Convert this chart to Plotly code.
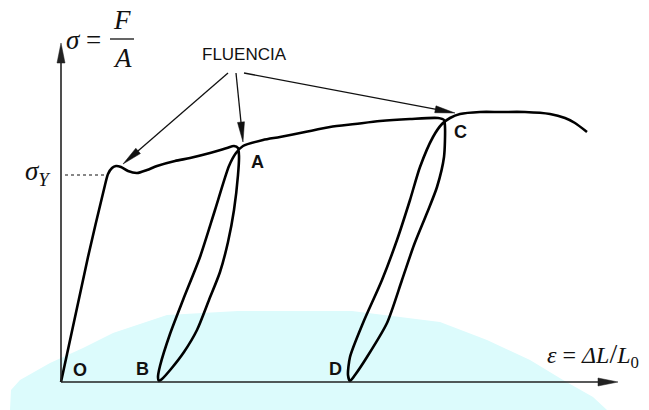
import plotly.graph_objects as go

# Stress-strain path (strain, stress) in arbitrary units:
# elastic loading O -> yield, plastic flow to A, unload to B, reload to A,
# flow to C, unload to D, reload past C and final softening.
strain = [0.00, 0.27, 0.44, 0.47, 0.51, 0.55, 0.60, 0.67, 0.76, 0.86, 0.96,
          1.14, 1.29, 1.49, 1.66, 1.73, 1.77, 1.78, 1.77, 1.73, 1.67, 1.59,
          1.48, 1.36, 1.23, 1.10, 1.01, 0.98, 0.97, 0.99, 1.09, 1.22,
          1.39, 1.54, 1.68, 1.75, 1.82, 2.02, 2.19, 2.44, 2.69, 2.94, 3.19,
          3.49, 3.77, 3.83, 3.84, 3.83, 3.76, 3.66, 3.53, 3.41, 3.26, 3.06,
          2.94, 2.89, 2.87, 2.89, 3.02, 3.21, 3.36, 3.49, 3.59, 3.72, 3.81,
          3.89, 3.99, 4.19, 4.39, 4.64, 4.89, 5.04, 5.14, 5.26]
stress = [0.00, 1.25, 1.97, 2.08, 2.14, 2.16, 2.15, 2.11, 2.09, 2.12, 2.16,
          2.21, 2.24, 2.29, 2.34, 2.36, 2.34, 2.26, 2.07, 1.72, 1.40, 1.10,
          0.82, 0.52, 0.30, 0.13, 0.03, 0.01, 0.05, 0.16, 0.48, 0.82,
          1.25, 1.72, 2.16, 2.29, 2.36, 2.42, 2.45, 2.50, 2.55, 2.58, 2.61,
          2.63, 2.64, 2.62, 2.55, 2.25, 1.95, 1.69, 1.37, 1.02, 0.59, 0.25,
          0.07, 0.01, 0.07, 0.25, 0.59, 1.02, 1.42, 1.82, 2.15, 2.45, 2.58,
          2.64, 2.68, 2.70, 2.70, 2.70, 2.68, 2.64, 2.59, 2.50]

sigma_yield = 2.07

# Named points and where their letters sit
point_names = ["O", "B", "D", "A", "C"]
point_label_x = [0.19, 0.81, 2.74, 1.96, 3.99]
point_label_y = [0.12, 0.13, 0.13, 2.20, 2.50]

# "FLUENCIA" callout: arrow tails under the word, tips at the yield spots
callout_text = "FLUENCIA"
callout_pos = (1.83, 3.28)
arrow_tails = [(1.67, 3.09), (1.75, 3.09), (1.83, 3.09)]
arrow_tips = [(0.62, 2.18), (1.82, 2.40), (3.94, 2.69)]

# View window (1 unit = 100 px)
x_range = [-0.61, 5.88]
y_range = [-0.28, 3.82]
x_axis_end = 5.57
y_axis_end = 3.39

INK = "#111111"


def arrow_shapes(x0, y0, x1, y1, head_len, head_w, width, color):
    dx, dy = x1 - x0, y1 - y0
    n = (dx * dx + dy * dy) ** 0.5
    ux, uy = dx / n, dy / n
    px, py = -uy, ux
    bx, by = x1 - ux * head_len, y1 - uy * head_len
    line = dict(type="line", x0=x0, y0=y0, x1=bx + ux * 0.01, y1=by + uy * 0.01,
                xref="x", yref="y", line=dict(color=color, width=width))
    head = dict(type="path", xref="x", yref="y",
                path=(f"M {x1},{y1} L {bx + px * head_w},{by + py * head_w} "
                      f"L {bx - px * head_w},{by - py * head_w} Z"),
                fillcolor=color, line=dict(color=color, width=0.5))
    return [line, head]


shapes = []

# pale cyan backdrop behind the lower part of the chart
backdrop = [(-0.51, -0.30), (-0.51, -0.28), (-0.50, -0.08), (-0.41, 0.02),
            (-0.11, 0.19), (0.22, 0.34), (0.52, 0.49), (1.06, 0.67),
            (1.77, 0.71), (2.91, 0.71), (3.79, 0.60), (4.26, 0.42),
            (4.69, 0.22), (5.02, 0.02), (5.32, -0.15), (5.46, -0.28),
            (5.47, -0.30)]
shapes.append(dict(type="path", xref="x", yref="y", layer="below",
                   path="M " + " L ".join(f"{a},{b}" for a, b in backdrop) + " Z",
                   fillcolor="#dcfbfc", line=dict(width=0)))

# axes with arrowheads
shapes += arrow_shapes(0, 0, x_axis_end, 0, 0.20, 0.04, 1.6, "#222222")
shapes += arrow_shapes(0, 0, 0, y_axis_end, 0.20, 0.04, 1.6, "#222222")

# dotted marker for the yield stress
shapes.append(dict(type="line", xref="x", yref="y", x0=0.04, x1=0.45,
                   y0=sigma_yield, y1=sigma_yield,
                   line=dict(color=INK, width=1.1, dash="dot")))

# callout arrows
for (tx, ty), (hx, hy) in zip(arrow_tails, arrow_tips):
    shapes += arrow_shapes(tx, ty, hx, hy, 0.2, 0.035, 1.3, INK)

# fraction bar of sigma = F / A
shapes.append(dict(type="line", xref="x", yref="y", x0=0.49, x1=0.73,
                   y0=3.43, y1=3.43, line=dict(color=INK, width=1.3)))

fig = go.Figure()
fig.add_trace(go.Scatter(x=strain, y=stress, mode="lines",
                         line=dict(color="black", width=2.6, shape="spline",
                                   smoothing=0.7),
                         hoverinfo="skip", showlegend=False))

SERIF = "Liberation Serif"
SANS = "Liberation Sans"
annotations = []
for name, lx, ly in zip(point_names, point_label_x, point_label_y):
    annotations.append(dict(x=lx, y=ly, text=f"<b>{name}</b>", showarrow=False,
                            font=dict(family=SANS, size=18, color=INK)))
annotations.append(dict(x=callout_pos[0], y=callout_pos[1], text=callout_text,
                        showarrow=False, font=dict(family=SANS, size=17, color=INK)))
annotations += [
    dict(x=0.03, y=3.42, text="<i>σ</i> =", xanchor="left", showarrow=False,
         font=dict(family=SERIF, size=27, color=INK)),
    dict(x=0.61, y=3.62, text="<i>F</i>", showarrow=False,
         font=dict(family=SERIF, size=27, color=INK)),
    dict(x=0.61, y=3.24, text="<i>A</i>", showarrow=False,
         font=dict(family=SERIF, size=27, color=INK)),
    dict(x=-0.08, y=sigma_yield + 0.02, text="<i>σ</i><sub><i>Y</i></sub>",
         xanchor="right", showarrow=False,
         font=dict(family=SERIF, size=27, color=INK)),
    dict(x=4.84, y=0.27,
         text="<i>ε</i> = <i>ΔL</i><span style='font-size:28px'>/</span><i>L</i><sub>0</sub>",
         xanchor="left", showarrow=False,
         font=dict(family=SERIF, size=24, color=INK)),
]

fig.update_layout(
    width=649, height=410,
    margin=dict(l=0, r=0, t=0, b=0),
    paper_bgcolor="white", plot_bgcolor="white",
    xaxis=dict(range=x_range, visible=False, fixedrange=True),
    yaxis=dict(range=y_range, visible=False, fixedrange=True),
    shapes=shapes, annotations=annotations, showlegend=False,
)

fig.write_html("out.html")
